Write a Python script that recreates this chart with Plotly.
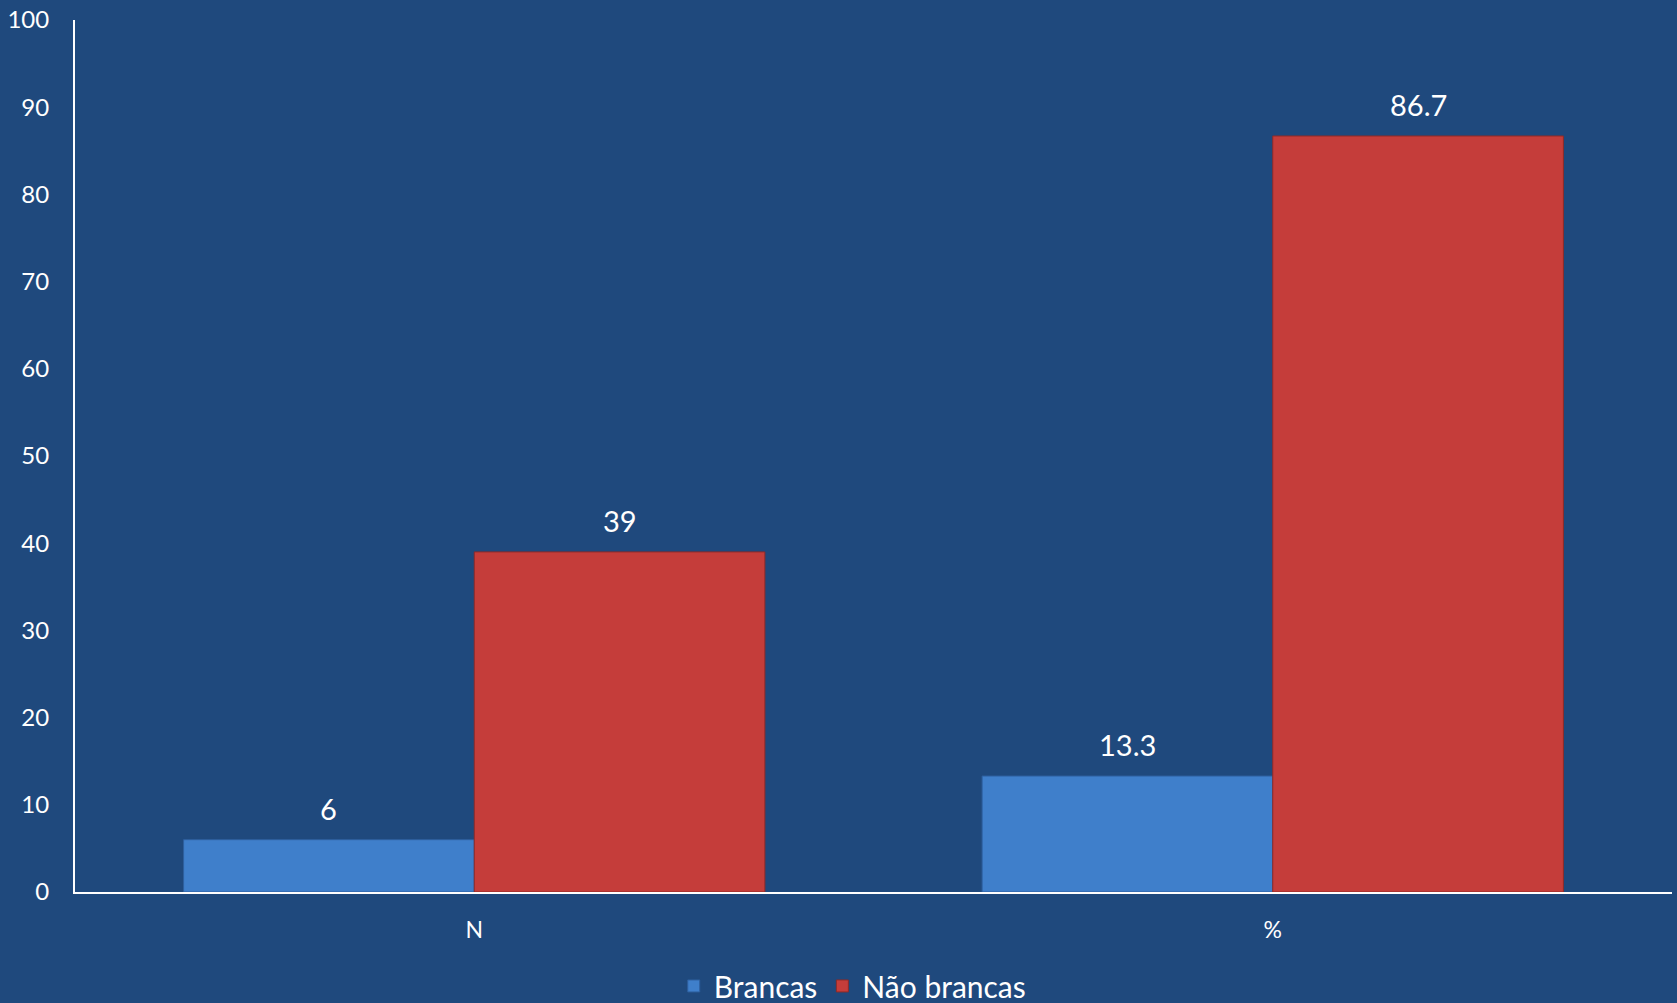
import plotly.graph_objects as go

categories = ["N", "%"]
brancas = [6, 13.3]
nao_brancas = [39, 86.7]
label_brancas = ["6", "13.3"]
label_nao = ["39", "86.7"]
series_names = ["Brancas", "Não brancas"]
y_ticks = [0, 10, 20, 30, 40, 50, 60, 70, 80, 90, 100]

BG = "#1F497D"
FONT = "Lato, 'Open Sans', sans-serif"
bargap = 0.272

fig = go.Figure()
fig.add_trace(go.Bar(
    x=categories, y=brancas, name=series_names[0],
    marker=dict(color="#3F7FCB", line=dict(color="#2E5F9E", width=1)),
))
fig.add_trace(go.Bar(
    x=categories, y=nao_brancas, name=series_names[1],
    marker=dict(color="#C53D3A", line=dict(color="#8E2A28", width=1)),
))

w = (1 - bargap) / 4
annotations = []
for i, (v, t) in enumerate(zip(brancas, label_brancas)):
    annotations.append(dict(x=i - w, y=v, text=t, xref="x", yref="y",
                            showarrow=False, yanchor="bottom", yshift=12,
                            font=dict(size=29, color="white", family=FONT)))
for i, (v, t) in enumerate(zip(nao_brancas, label_nao)):
    annotations.append(dict(x=i + w, y=v, text=t, xref="x", yref="y",
                            showarrow=False, yanchor="bottom", yshift=12,
                            font=dict(size=29, color="white", family=FONT)))

fig.update_layout(
    width=1677, height=1003,
    paper_bgcolor=BG, plot_bgcolor=BG,
    margin=dict(l=75, r=5, t=20, b=111, autoexpand=False),
    barmode="group", bargap=bargap, bargroupgap=0,
    font=dict(family=FONT, color="white"),
    showlegend=True,
    legend=dict(orientation="h", x=0.487, xanchor="center",
                yref="container", y=0.017, yanchor="middle",
                font=dict(size=30, color="white", family=FONT),
                bgcolor="rgba(0,0,0,0)", itemwidth=30),
    annotations=annotations,
)
fig.update_xaxes(
    type="category", showgrid=False, zeroline=False,
    showline=True, linecolor="white", linewidth=2,
    ticks="", tickfont=dict(size=23, color="white", family=FONT),
    ticklabelstandoff=16,
)
fig.update_yaxes(
    range=[0, 100], tickvals=y_ticks, showgrid=False, zeroline=False,
    showline=True, linecolor="white", linewidth=2,
    ticks="", tickfont=dict(size=24, color="white", family=FONT),
    ticklabelstandoff=19,
)

fig.write_html(
    "out.html",
    config={"displayModeBar": False},
    post_script="document.body.style.margin='0';document.body.style.overflow='hidden';document.body.style.background='#1F497D';",
)
